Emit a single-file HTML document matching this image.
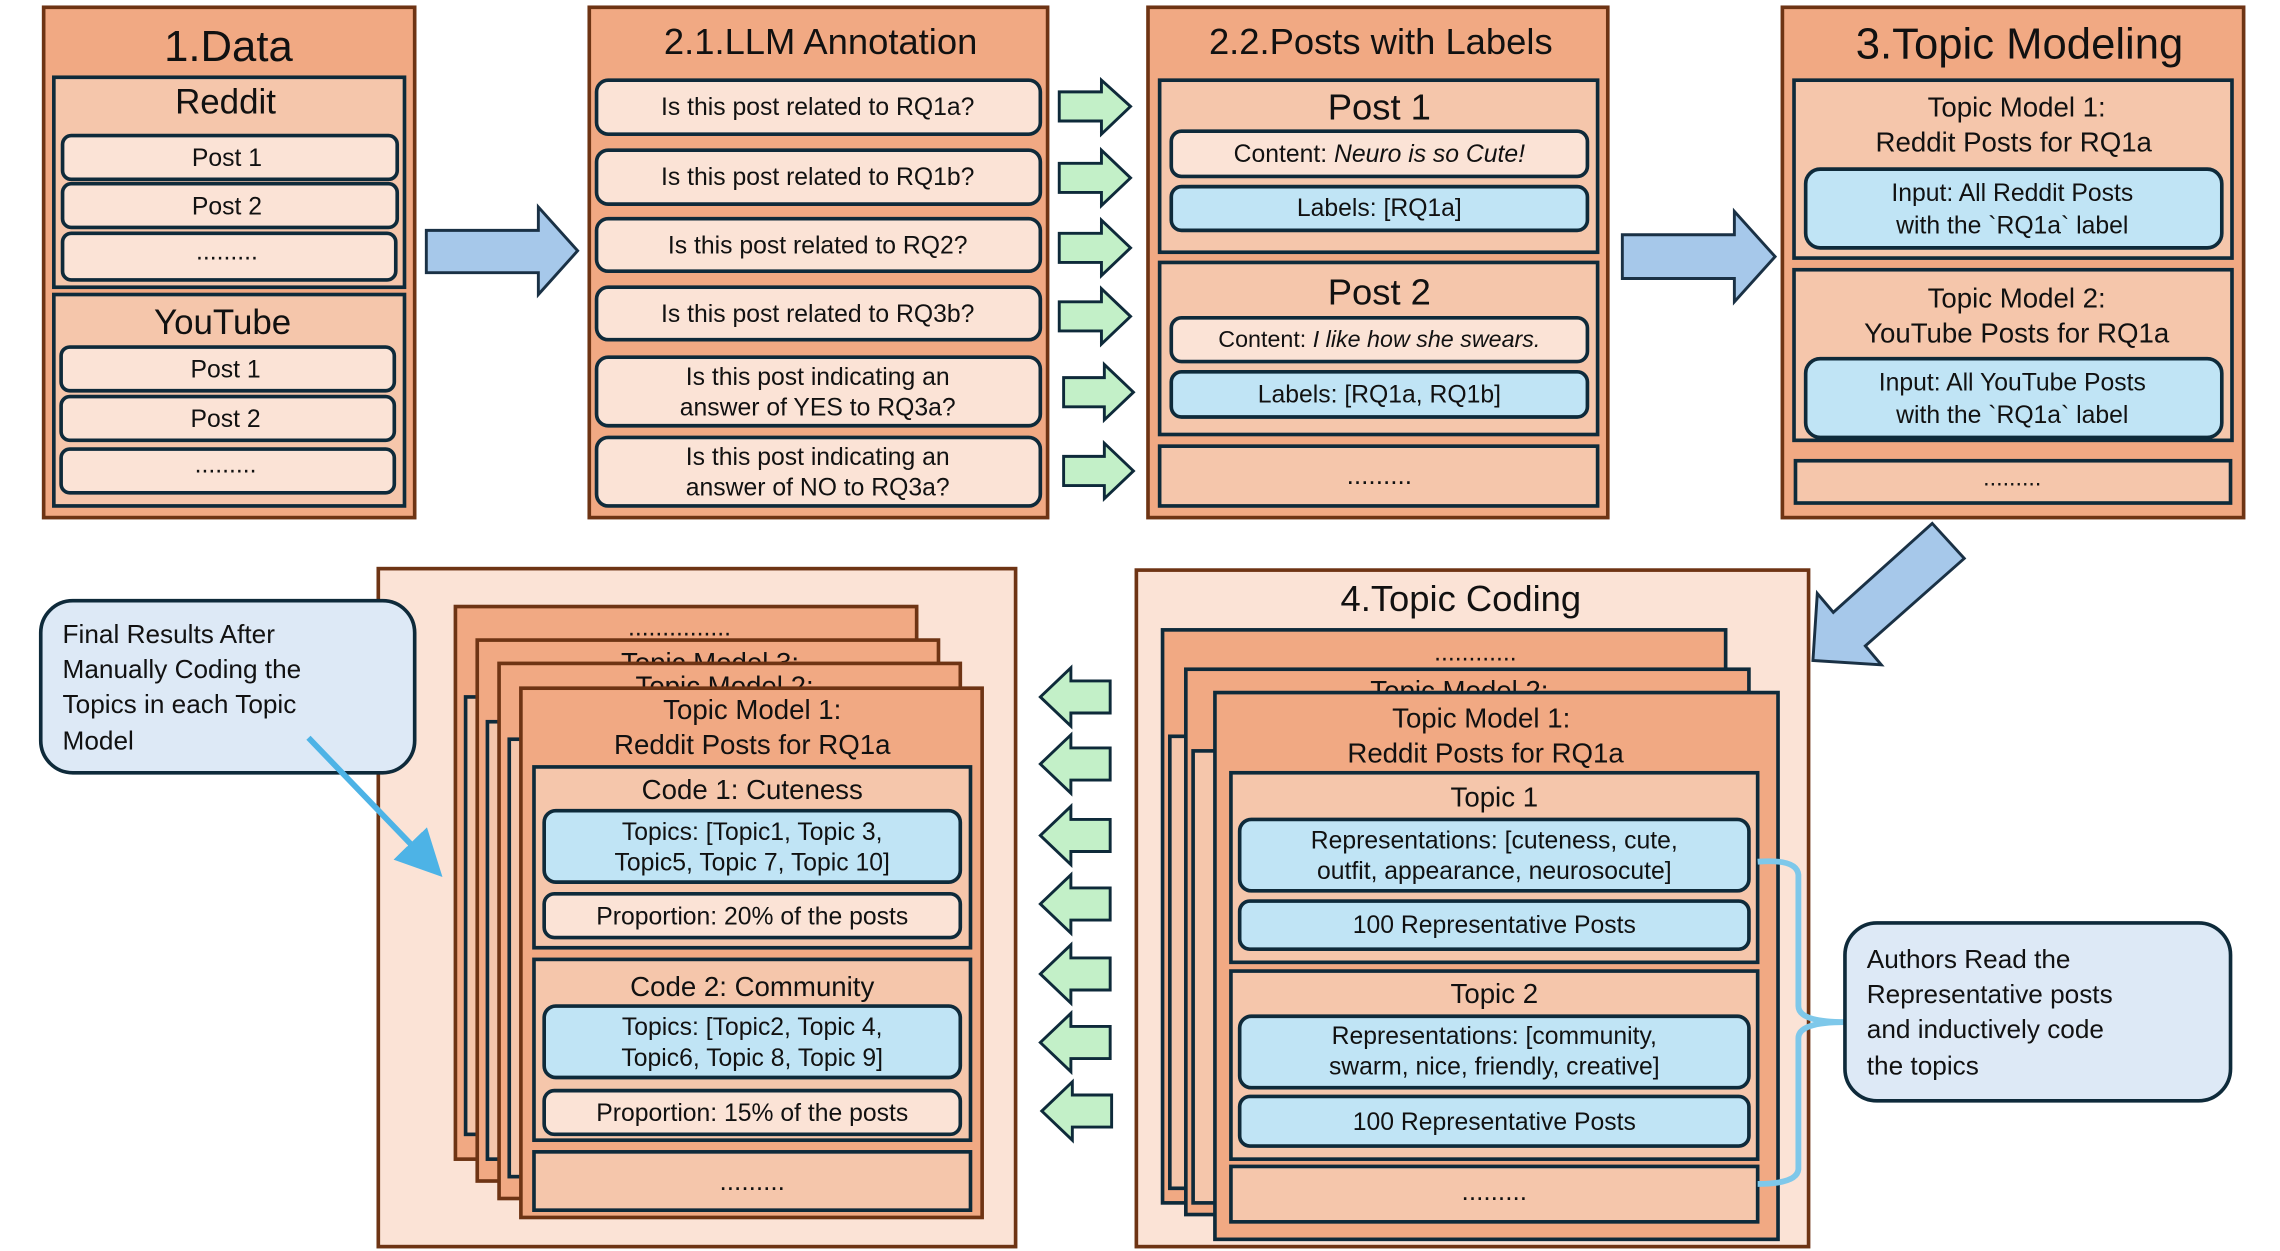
<!DOCTYPE html>
<html><head><meta charset="utf-8"><style>
html,body{margin:0;padding:0;background:#fff;}
svg{display:block;}
text{font-family:"Liberation Sans",sans-serif;fill:#111;}
</style></head><body>
<svg width="2280" height="1251" viewBox="0 0 1567 858" preserveAspectRatio="none" xmlns="http://www.w3.org/2000/svg">
<defs>
<marker id="ah" markerWidth="8" markerHeight="8" refX="4" refY="4" orient="auto" markerUnits="strokeWidth">
<path d="M0,0 L8,4 L0,8 Z" fill="#4db3e6"/></marker>
</defs>
<g stroke-linejoin="miter">
<!-- 1.Data -->
<rect x="30" y="5" width="255" height="350" fill="#f1a983" stroke="#6e3414" stroke-width="2.5"/>
<text x="157" y="42" font-size="30" text-anchor="middle">1.Data</text>
<rect x="37" y="53" width="241" height="144" fill="#f5c6ab" stroke="#0e2a3a" stroke-width="2.5"/>
<text x="155" y="78" font-size="24" text-anchor="middle">Reddit</text>
<g fill="#fbe3d6" stroke="#0e2a3a" stroke-width="2.5">
<rect x="43" y="93" width="230" height="30" rx="6"/>
<rect x="43" y="126" width="230" height="30" rx="6"/>
<rect x="43" y="160" width="229" height="32" rx="6"/>
</g>
<text x="156" y="114" font-size="17" text-anchor="middle">Post 1</text>
<text x="156" y="147" font-size="17" text-anchor="middle">Post 2</text>
<text x="156" y="178" font-size="17" text-anchor="middle">.........</text>
<rect x="37" y="202" width="241" height="145" fill="#f5c6ab" stroke="#0e2a3a" stroke-width="2.5"/>
<text x="153" y="229" font-size="24" text-anchor="middle">YouTube</text>
<g fill="#fbe3d6" stroke="#0e2a3a" stroke-width="2.5">
<rect x="42" y="238" width="229" height="30" rx="6"/>
<rect x="42" y="272" width="229" height="30" rx="6"/>
<rect x="42" y="308" width="229" height="30" rx="6"/>
</g>
<text x="155" y="259" font-size="17" text-anchor="middle">Post 1</text>
<text x="155" y="293" font-size="17" text-anchor="middle">Post 2</text>
<text x="155" y="324" font-size="17" text-anchor="middle">.........</text>

<!-- arrow 1 -->
<path d="M293,158 L370,158 L370,142 L397,172 L370,202 L370,187 L293,187 Z" fill="#a6c8ea" stroke="#1a3145" stroke-width="2"/>

<!-- 2.1 -->
<rect x="405" y="5" width="315" height="350" fill="#f1a983" stroke="#6e3414" stroke-width="2.5"/>
<text x="564" y="37" font-size="25" text-anchor="middle">2.1.LLM Annotation</text>
<g fill="#fbe3d6" stroke="#0e2a3a" stroke-width="2.5">
<rect x="410" y="55" width="305" height="37" rx="8"/>
<rect x="410" y="103" width="305" height="37" rx="8"/>
<rect x="410" y="150" width="305" height="36" rx="8"/>
<rect x="410" y="197" width="305" height="36" rx="8"/>
<rect x="410" y="245" width="305" height="47" rx="8"/>
<rect x="410" y="300" width="305" height="47" rx="8"/>
</g>
<g font-size="17" text-anchor="middle">
<text x="562" y="79">Is this post related to RQ1a?</text>
<text x="562" y="127">Is this post related to RQ1b?</text>
<text x="562" y="174">Is this post related to RQ2?</text>
<text x="562" y="221">Is this post related to RQ3b?</text>
<text x="562" y="264">Is this post indicating an</text>
<text x="562" y="285">answer of YES to RQ3a?</text>
<text x="562" y="319">Is this post indicating an</text>
<text x="562" y="340">answer of NO to RQ3a?</text>
</g>
<g fill="#c3f0c8" stroke="#0e2a3a" stroke-width="2">
<path d="M728,63 L757,63 L757,55 L777,73 L757,92 L757,83 L728,83 Z"/>
<path d="M728,112 L757,112 L757,103 L777,122 L757,141 L757,132 L728,132 Z"/>
<path d="M728,160 L757,160 L757,151 L777,170 L757,189 L757,180 L728,180 Z"/>
<path d="M728,207 L757,207 L757,198 L777,217 L757,236 L757,227 L728,227 Z"/>
<path d="M731,259 L759,259 L759,250 L779,269 L759,288 L759,279 L731,279 Z"/>
<path d="M731,313 L759,313 L759,304 L779,323 L759,342 L759,333 L731,333 Z"/>
</g>

<!-- 2.2 -->
<rect x="789" y="5" width="316" height="350" fill="#f1a983" stroke="#6e3414" stroke-width="2.5"/>
<text x="949" y="37" font-size="25" text-anchor="middle">2.2.Posts with Labels</text>
<rect x="797" y="55" width="301" height="118" fill="#f5c6ab" stroke="#0e2a3a" stroke-width="2.5"/>
<text x="948" y="82" font-size="25" text-anchor="middle">Post 1</text>
<rect x="805" y="90" width="286" height="31" rx="7" fill="#fbe3d6" stroke="#0e2a3a" stroke-width="2.5"/>
<text x="948" y="111" font-size="17" text-anchor="middle">Content: <tspan font-style="italic">Neuro is so Cute!</tspan></text>
<rect x="805" y="128" width="286" height="30" rx="7" fill="#c0e4f5" stroke="#0e2a3a" stroke-width="2.5"/>
<text x="948" y="148" font-size="17" text-anchor="middle">Labels: [RQ1a]</text>
<rect x="797" y="180" width="301" height="118" fill="#f5c6ab" stroke="#0e2a3a" stroke-width="2.5"/>
<text x="948" y="209" font-size="25" text-anchor="middle">Post 2</text>
<rect x="805" y="218" width="286" height="30" rx="7" fill="#fbe3d6" stroke="#0e2a3a" stroke-width="2.5"/>
<text x="948" y="238" font-size="16" text-anchor="middle">Content: <tspan font-style="italic">I like how she swears.</tspan></text>
<rect x="805" y="255" width="286" height="31" rx="7" fill="#c0e4f5" stroke="#0e2a3a" stroke-width="2.5"/>
<text x="948" y="276" font-size="17" text-anchor="middle">Labels: [RQ1a, RQ1b]</text>
<rect x="797" y="306" width="301" height="41" fill="#f5c6ab" stroke="#0e2a3a" stroke-width="2.5"/>
<text x="948" y="332" font-size="18" text-anchor="middle">.........</text>

<!-- arrow 2 -->
<path d="M1115,161 L1192,161 L1192,145 L1220,176 L1192,207 L1192,191 L1115,191 Z" fill="#a6c8ea" stroke="#1a3145" stroke-width="2"/>

<!-- 3 -->
<rect x="1225" y="5" width="317" height="350" fill="#f1a983" stroke="#6e3414" stroke-width="2.5"/>
<text x="1388" y="40" font-size="30" text-anchor="middle">3.Topic Modeling</text>
<rect x="1233" y="55" width="301" height="122" fill="#f5c6ab" stroke="#0e2a3a" stroke-width="2.5"/>
<text x="1386" y="80" font-size="19" text-anchor="middle">Topic Model 1:</text>
<text x="1384" y="104" font-size="19" text-anchor="middle">Reddit Posts for RQ1a</text>
<rect x="1241" y="116" width="286" height="54" rx="10" fill="#c0e4f5" stroke="#0e2a3a" stroke-width="2.5"/>
<text x="1383" y="138" font-size="17" text-anchor="middle">Input: All Reddit Posts</text>
<text x="1383" y="160" font-size="17" text-anchor="middle">with the `RQ1a` label</text>
<rect x="1233" y="185" width="301" height="117" fill="#f5c6ab" stroke="#0e2a3a" stroke-width="2.5"/>
<text x="1386" y="211" font-size="19" text-anchor="middle">Topic Model 2:</text>
<text x="1386" y="235" font-size="19" text-anchor="middle">YouTube Posts for RQ1a</text>
<rect x="1241" y="246" width="286" height="54" rx="10" fill="#c0e4f5" stroke="#0e2a3a" stroke-width="2.5"/>
<text x="1383" y="268" font-size="17" text-anchor="middle">Input: All YouTube Posts</text>
<text x="1383" y="290" font-size="17" text-anchor="middle">with the `RQ1a` label</text>
<rect x="1234" y="316" width="299" height="29" fill="#f5c6ab" stroke="#0e2a3a" stroke-width="2.5"/>
<text x="1383" y="333" font-size="16" text-anchor="middle">.........</text>

<!-- diagonal arrow -->
<path d="M1328,359 L1350,383 L1282,443 L1293,456 L1246,453 L1249,407 L1260,420 Z" fill="#a6c8ea" stroke="#1a3145" stroke-width="2"/>

<!-- final results -->
<rect x="260" y="390" width="438" height="465" fill="#fbe3d6" stroke="#6e3414" stroke-width="2.5"/>
<g stroke-width="2.5">
<rect x="313" y="416" width="317" height="379" fill="#f1a983" stroke="#6e3414"/>
<rect x="320" y="478" width="300" height="300" fill="#f5c6ab" stroke="#0e2a3a"/>
<text x="467" y="436" font-size="17" text-anchor="middle" stroke="none">...............</text>
<rect x="328" y="439" width="317" height="371" fill="#f1a983" stroke="#6e3414"/>
<text x="488" y="461" font-size="19" text-anchor="middle" stroke="none">Topic Model 3:</text>
<rect x="335" y="495" width="300" height="300" fill="#f5c6ab" stroke="#0e2a3a"/>
<rect x="343" y="455" width="317" height="367" fill="#f1a983" stroke="#6e3414"/>
<text x="498" y="477" font-size="19" text-anchor="middle" stroke="none">Topic Model 2:</text>
<rect x="350" y="507" width="300" height="300" fill="#f5c6ab" stroke="#0e2a3a"/>
<rect x="358" y="472" width="317" height="363" fill="#f1a983" stroke="#6e3414"/>
</g>
<text x="517" y="493" font-size="19" text-anchor="middle">Topic Model 1:</text>
<text x="517" y="517" font-size="19" text-anchor="middle">Reddit Posts for RQ1a</text>
<rect x="367" y="526" width="300" height="124" fill="#f5c6ab" stroke="#0e2a3a" stroke-width="2.5"/>
<text x="517" y="548" font-size="19" text-anchor="middle">Code 1: Cuteness</text>
<rect x="374" y="556" width="286" height="49" rx="8" fill="#c0e4f5" stroke="#0e2a3a" stroke-width="2.5"/>
<text x="517" y="576" font-size="17" text-anchor="middle">Topics: [Topic1, Topic 3,</text>
<text x="517" y="597" font-size="17" text-anchor="middle">Topic5, Topic 7, Topic 10]</text>
<rect x="374" y="613" width="286" height="30" rx="7" fill="#fbe3d6" stroke="#0e2a3a" stroke-width="2.5"/>
<text x="517" y="634" font-size="17" text-anchor="middle">Proportion: 20% of the posts</text>
<rect x="367" y="658" width="300" height="124" fill="#f5c6ab" stroke="#0e2a3a" stroke-width="2.5"/>
<text x="517" y="683" font-size="19" text-anchor="middle">Code 2: Community</text>
<rect x="374" y="690" width="286" height="49" rx="8" fill="#c0e4f5" stroke="#0e2a3a" stroke-width="2.5"/>
<text x="517" y="710" font-size="17" text-anchor="middle">Topics: [Topic2, Topic 4,</text>
<text x="517" y="731" font-size="17" text-anchor="middle">Topic6, Topic 8, Topic 9]</text>
<rect x="374" y="748" width="286" height="30" rx="7" fill="#fbe3d6" stroke="#0e2a3a" stroke-width="2.5"/>
<text x="517" y="769" font-size="17" text-anchor="middle">Proportion: 15% of the posts</text>
<rect x="367" y="790" width="300" height="40" fill="#f5c6ab" stroke="#0e2a3a" stroke-width="2.5"/>
<text x="517" y="816" font-size="18" text-anchor="middle">.........</text>

<!-- left callout -->
<rect x="28" y="412" width="257" height="118" rx="22" fill="#dde9f6" stroke="#0e2a3a" stroke-width="2.5"/>
<g font-size="18">
<text x="43" y="441">Final Results After</text>
<text x="43" y="465">Manually Coding the</text>
<text x="43" y="489">Topics in each Topic</text>
<text x="43" y="514">Model</text>
</g>
<line x1="212" y1="506" x2="293" y2="590" stroke="#4db3e6" stroke-width="4" marker-end="url(#ah)"/>

<!-- green left arrows -->
<g fill="#c3f0c8" stroke="#0e2a3a" stroke-width="2">
<path d="M763,467 L736,467 L736,458 L715,478 L736,498 L736,489 L763,489 Z"/>
<path d="M763,513 L736,513 L736,504 L715,524 L736,544 L736,535 L763,535 Z"/>
<path d="M763,562 L736,562 L736,553 L715,573 L736,593 L736,584 L763,584 Z"/>
<path d="M763,609 L736,609 L736,600 L715,620 L736,640 L736,631 L763,631 Z"/>
<path d="M763,657 L736,657 L736,648 L715,668 L736,688 L736,679 L763,679 Z"/>
<path d="M763,704 L736,704 L736,695 L715,715 L736,735 L736,726 L763,726 Z"/>
<path d="M764,751 L737,751 L737,742 L716,762 L737,782 L737,773 L764,773 Z"/>
</g>

<!-- 4.Topic Coding -->
<rect x="781" y="391" width="462" height="464" fill="#fbe3d6" stroke="#6e3414" stroke-width="2.5"/>
<text x="1004" y="419" font-size="25" text-anchor="middle">4.Topic Coding</text>
<g stroke-width="2.5" stroke="#0e2a3a">
<rect x="799" y="432" width="387" height="393" fill="#f1a983"/>
<text x="1014" y="453" font-size="17" text-anchor="middle" stroke="none">............</text>
<rect x="804" y="505" width="370" height="310" fill="#f5c6ab"/>
<rect x="815" y="459" width="387" height="374" fill="#f1a983"/>
<text x="1003" y="480" font-size="19" text-anchor="middle" stroke="none">Topic Model 2:</text>
<rect x="820" y="515" width="370" height="310" fill="#f5c6ab"/>
<rect x="835" y="475" width="387" height="375" fill="#f1a983"/>
</g>
<text x="1018" y="499" font-size="19" text-anchor="middle">Topic Model 1:</text>
<text x="1021" y="523" font-size="19" text-anchor="middle">Reddit Posts for RQ1a</text>
<rect x="846" y="530" width="362" height="130" fill="#f5c6ab" stroke="#0e2a3a" stroke-width="2.5"/>
<text x="1027" y="553" font-size="19" text-anchor="middle">Topic 1</text>
<rect x="852" y="562" width="350" height="49" rx="8" fill="#c0e4f5" stroke="#0e2a3a" stroke-width="2.5"/>
<text x="1027" y="582" font-size="17" text-anchor="middle">Representations: [cuteness, cute,</text>
<text x="1027" y="603" font-size="17" text-anchor="middle">outfit, appearance, neurosocute]</text>
<rect x="852" y="618" width="350" height="33" rx="7" fill="#c0e4f5" stroke="#0e2a3a" stroke-width="2.5"/>
<text x="1027" y="640" font-size="17" text-anchor="middle">100 Representative Posts</text>
<rect x="846" y="666" width="362" height="129" fill="#f5c6ab" stroke="#0e2a3a" stroke-width="2.5"/>
<text x="1027" y="688" font-size="19" text-anchor="middle">Topic 2</text>
<rect x="852" y="697" width="350" height="49" rx="8" fill="#c0e4f5" stroke="#0e2a3a" stroke-width="2.5"/>
<text x="1027" y="716" font-size="17" text-anchor="middle">Representations: [community,</text>
<text x="1027" y="737" font-size="17" text-anchor="middle">swarm, nice, friendly, creative]</text>
<rect x="852" y="752" width="350" height="34" rx="7" fill="#c0e4f5" stroke="#0e2a3a" stroke-width="2.5"/>
<text x="1027" y="775" font-size="17" text-anchor="middle">100 Representative Posts</text>
<rect x="846" y="800" width="362" height="38" fill="#f5c6ab" stroke="#0e2a3a" stroke-width="2.5"/>
<text x="1027" y="823" font-size="18" text-anchor="middle">.........</text>

<!-- bracket -->
<path d="M1208,591 Q1235,589 1236,600 L1236,690 Q1236,701 1268,701 M1268,701 Q1236,701 1236,712 L1236,802 Q1235,812 1208,812" fill="none" stroke="#7ec8ea" stroke-width="4"/>

<!-- right callout -->
<rect x="1268" y="633" width="265" height="122" rx="22" fill="#dde9f6" stroke="#0e2a3a" stroke-width="2.5"/>
<g font-size="18">
<text x="1283" y="664">Authors Read the</text>
<text x="1283" y="688">Representative posts</text>
<text x="1283" y="712">and inductively code</text>
<text x="1283" y="737">the topics</text>
</g>
</g>
</svg>
</body></html>
